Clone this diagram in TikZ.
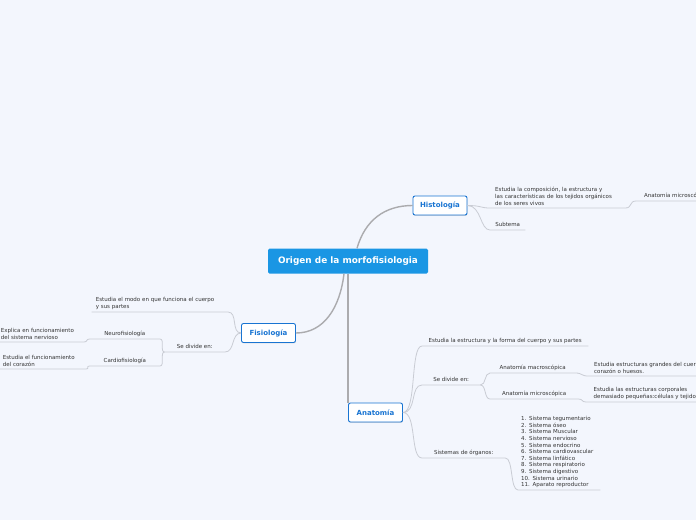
\documentclass[tikz,border=0pt]{standalone}
\usepackage{fontspec}
\setmainfont{DejaVu Sans}
\usetikzlibrary{shadows}
\definecolor{bgblue}{HTML}{F3F6FD}
\definecolor{mainblue}{HTML}{1A96E4}
\definecolor{topicblue}{HTML}{1874D2}
\definecolor{trunkgrey}{HTML}{ABABAE}
\definecolor{twiggrey}{HTML}{C9CCD4}
\definecolor{inkgrey}{HTML}{333333}
\newcommand{\twigfont}{\fontsize{5.5}{7}\selectfont}
\tikzset{
	root/.style = {rectangle, rounded corners=1.5pt, fill=mainblue, text=white, font=\fontsize{8.9}{10}\selectfont\bfseries, minimum width=160pt, minimum height=25pt}, % the central idea
	main topic/.style = {rectangle, rounded corners=2pt, draw=topicblue, line width=0.9pt, fill=white, text=topicblue, font=\fontsize{7}{8}\selectfont\bfseries, minimum width=54pt, minimum height=19pt, drop shadow={shadow xshift=0.4pt, shadow yshift=-0.9pt, opacity=0.25}},
	twig/.style = {text=inkgrey, font=\twigfont, inner ysep=2pt, inner xsep=4pt, text depth=1.3pt}, % underlined sub topics
	block/.style = {align=left, text depth=}, % several lines
	leaf/.style = {twig, block, inner xsep=6pt},
	trunk/.style = {draw=trunkgrey, line width=1.4pt},
	link/.style = {draw=twiggrey, line width=0.8pt}
}

\begin{document}
\begin{tikzpicture}[x=1pt, y=-1pt]
	\useasboundingbox (0,0) rectangle (696,520);
	\fill[bgblue] (0,0) rectangle (696,520);
	\clip (0,0) rectangle (696,520);
	% main nodes
	\node[root] (root) at (348,261) {Origen de la morfofisiologia};
	\node[main topic] (hist) at (440,205.5) {Histología};
	\node[main topic] (fisio) at (268.5,333) {Fisiología};
	\node[main topic] (anat) at (375.5,412.5) {Anatomía};
	\draw[trunk] ([xshift=9pt]root.north) .. controls +(8,-28) and +(-28,0) .. (hist.west);
	\draw[trunk] ([xshift=-4pt]root.south) .. controls +(-4,34) and +(28,0) .. (fisio.east);
	\draw[trunk] (root.south) -- (root.south |- anat.north);
	% Histologia
	\node[twig, block, anchor=south west, text width=125pt, minimum width=135pt, inner xsep=5pt] (h1) at (490,208) {Estudia la composición, la estructura y\\las características de los tejidos orgánicos\\de los seres vivos};
	\node[twig, anchor=south west, minimum width=35pt] (h2) at (490,230) {Subtema};
	\node[twig, anchor=south west, minimum width=80pt, inner xsep=6pt] (h11) at (636,201) {Anatomía microscópica};
	\draw[link] (hist.east) .. controls +(14,0) and +(-10,0) .. (h1.south west) -- (h1.south east);
	\draw[link] (hist.east) .. controls +(14,0) and +(-10,0) .. (h2.south west) -- (h2.south east);
	\draw[link] (h1.south east) .. controls +(7,0) and +(-7,0) .. (h11.south west) -- (h11.south east);
	% Fisiologia
	\node[twig, block, anchor=south east, text width=128pt, minimum width=136pt] (f1) at (228,312) {Estudia el modo en que funciona el cuerpo\\y sus partes};
	\node[twig, anchor=south east, minimum width=60pt] (f2) at (225,352) {Se divide en:};
	\node[twig, anchor=south east, minimum width=70pt] (f21) at (160,339) {Neurofisiología};
	\node[twig, anchor=south east, minimum width=70pt] (f22) at (160,366) {Cardiofisiología};
	\node[leaf, anchor=south east, text width=80pt, inner xsep=3pt] (f211) at (84,342) {Explica en funcionamiento\\del sistema nervioso};
	\node[leaf, anchor=south east, text width=80pt, inner xsep=3pt] (f221) at (86,369) {Estudia el funcionamiento\\del corazón};
	\draw[link] (fisio.west) .. controls +(-10,0) and +(10,0) .. (f1.south east) -- (f1.south west);
	\draw[link] (fisio.west) .. controls +(-10,0) and +(10,0) .. (f2.south east) -- (f2.south west);
	\draw[link] (f2.south west) .. controls +(-5,0) and +(5,0) .. (f21.south east) -- (f21.south west);
	\draw[link] (f2.south west) .. controls +(-5,0) and +(5,0) .. (f22.south east) -- (f22.south west);
	\draw[link] (f21.south west) .. controls +(-4,0) and +(4,0) .. (f211.south east) -- (f211.south west);
	\draw[link] (f22.south west) .. controls +(-4,0) and +(4,0) .. (f221.south east) -- (f221.south west);
	% Anatomia
	\node[twig, anchor=south west, minimum width=166pt] (a1) at (422,346) {Estudia la estructura y la forma del cuerpo y sus partes};
	\node[twig, anchor=south west, minimum width=58pt] (a2) at (422,385) {Se divide en:};
	\node[twig, anchor=south west, minimum width=83pt] (a3) at (422,458) {Sistemas de órganos:};
	\node[twig, anchor=south west, minimum width=85pt] (a21) at (490,373) {Anatomía macroscópica};
	\node[twig, anchor=south west, minimum width=88pt] (a22) at (490,399) {Anatomía microscópica};
	\node[leaf, anchor=south west, minimum width=120pt] (a211) at (588,376) {Estudia estructuras grandes del cuerpo\\corazón o huesos.};
	\node[leaf, anchor=south west, minimum width=120pt] (a221) at (586,402) {Estudia las estructuras corporales\\demasiado pequeñas:células y tejidos};
	\node[twig, block, anchor=south west, text width=76pt, minimum width=80pt, inner xsep=3pt, font=\fontsize{5.5}{6.6}\selectfont] (a31) at (518,490) {1. Sistema tegumentario\\2. Sistema óseo\\3. Sistema Muscular\\4. Sistema nervioso\\5. Sistema endocrino\\6. Sistema cardiovascular\\7. Sistema linfático\\8. Sistema respiratorio\\9. Sistema digestivo\\10. Sistema urinario\\11. Aparato reproductor};
	\draw[link] (anat.east) .. controls +(14,0) and +(-12,0) .. (a1.south west) -- (a1.south east);
	\draw[link] (anat.east) .. controls +(14,0) and +(-12,0) .. (a2.south west) -- (a2.south east);
	\draw[link] (anat.east) .. controls +(14,0) and +(-12,0) .. (a3.south west) -- (a3.south east);
	\draw[link] (a2.south east) .. controls +(6,0) and +(-6,0) .. (a21.south west) -- (a21.south east);
	\draw[link] (a2.south east) .. controls +(6,0) and +(-6,0) .. (a22.south west) -- (a22.south east);
	\draw[link] (a21.south east) .. controls +(7,0) and +(-7,0) .. (a211.south west) -- (a211.south east);
	\draw[link] (a22.south east) .. controls +(5,0) and +(-5,0) .. (a221.south west) -- (a221.south east);
	\draw[link] (a3.south east) .. controls +(8,0) and +(-8,0) .. (a31.south west) -- (a31.south east);
\end{tikzpicture}
\end{document}
